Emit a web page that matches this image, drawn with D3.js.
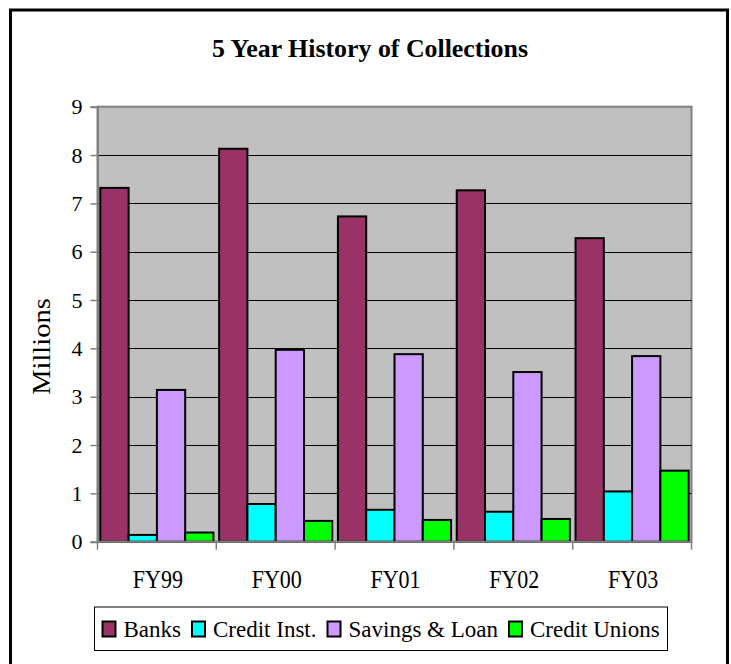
<!DOCTYPE html>
<html lang="en">
<head>
  <meta charset="UTF-8">
  <title>5 Year History of Collections</title>
  <style>
    body { margin: 0; background: #fff; }
    svg { display: block; }
    svg text { font-family: "Liberation Serif", "Times New Roman", Times, serif !important; fill: #000; }
  </style>
</head>
<body>
  <svg id="chart" width="731" height="664"></svg>

  <script src="https://cdn.jsdelivr.net/npm/d3@7/dist/d3.min.js"></script>
  <script>
    // data (millions)
    var years = ["FY99", "FY00", "FY01", "FY02", "FY03"];
    var seriesNames = ["Banks", "Credit Inst.", "Savings & Loan", "Credit Unions"];
    var seriesColors = ["#993366", "#00FFFF", "#CC99FF", "#00FF00"];
    var banks        = [7.32, 8.13, 6.73, 7.27, 6.28];
    var creditInst   = [0.14, 0.78, 0.66, 0.62, 1.04];
    var savingsLoan  = [3.14, 3.97, 3.88, 3.51, 3.84];
    var creditUnions = [0.19, 0.43, 0.45, 0.47, 1.47];
    var yTicks = [0, 1, 2, 3, 4, 5, 6, 7, 8, 9];

    var values = [banks, creditInst, savingsLoan, creditUnions];
    var serif = '"Liberation Serif", "Times New Roman", Times, serif';

    var svg = d3.select("#chart");
    var plot = { left: 97.5, right: 691.5, top: 106.7, bottom: 541.7 };

    // outer frame (bottom edge is cut off in the original)
    svg.append("rect")
      .attr("x", 10.5).attr("y", 10)
      .attr("width", 717).attr("height", 680)
      .attr("fill", "none").attr("stroke", "#000").attr("stroke-width", 3);

    svg.append("text")
      .attr("x", 370).attr("y", 56.7)
      .attr("text-anchor", "middle")
      .style("font-family", serif)
      .attr("font-size", 25).attr("font-weight", "bold")
      .attr("textLength", 316).attr("lengthAdjust", "spacingAndGlyphs")
      .text("5 Year History of Collections");

    var x0 = d3.scaleBand().domain(years).range([plot.left, plot.right]);
    var x1 = d3.scaleBand().domain(seriesNames).range([0, x0.bandwidth()])
      .paddingInner(0).paddingOuter(0.1);
    var y = d3.scaleLinear().domain([0, 9]).range([plot.bottom, plot.top]);

    // plot area
    svg.append("rect")
      .attr("x", plot.left).attr("y", plot.top)
      .attr("width", plot.right - plot.left).attr("height", plot.bottom - plot.top)
      .attr("fill", "#C0C0C0").attr("stroke", "#808080").attr("stroke-width", 2);

    svg.append("g").selectAll("line")
      .data(yTicks.filter(function (t) { return t > 0 && t < 9; }))
      .join("line")
      .attr("x1", plot.left).attr("x2", plot.right)
      .attr("y1", function (d) { return Math.round(y(d)) + 0.5; })
      .attr("y2", function (d) { return Math.round(y(d)) + 0.5; })
      .attr("stroke", "#000").attr("stroke-width", 1);

    // bars
    var groups = svg.append("g").selectAll("g")
      .data(years)
      .join("g")
      .attr("transform", function (d) { return "translate(" + x0(d) + ",0)"; });

    groups.selectAll("rect")
      .data(function (d, i) {
        return seriesNames.map(function (s, j) { return { s: s, v: values[j][i], c: seriesColors[j] }; });
      })
      .join("rect")
      .attr("x", function (d) { return x1(d.s); })
      .attr("width", x1.bandwidth())
      .attr("y", function (d) { return y(d.v); })
      .attr("height", function (d) { return y(0) - y(d.v); })
      .attr("fill", function (d) { return d.c; })
      .attr("stroke", "#000").attr("stroke-width", 2);

    // y axis
    var yAxis = svg.append("g")
      .attr("transform", "translate(" + plot.left + ",0)")
      .call(d3.axisLeft(y).tickValues(yTicks).tickSize(7).tickPadding(8).tickFormat(d3.format("d")));
    yAxis.attr("font-family", null).attr("font-size", null);
    yAxis.select(".domain").attr("stroke", "#808080").attr("stroke-width", 2);
    yAxis.selectAll(".tick line").attr("stroke", "#808080").attr("stroke-width", 1.5);
    yAxis.selectAll("text").style("font-family", serif).attr("font-size", 22).attr("fill", "#000");

    // x axis, ticks at category boundaries
    var xAxis = svg.append("g").attr("transform", "translate(0," + plot.bottom + ")");
    xAxis.append("line")
      .attr("x1", plot.left).attr("x2", plot.right)
      .attr("stroke", "#808080").attr("stroke-width", 2);
    var bounds = years.map(function (d) { return x0(d); }).concat([plot.right]);
    xAxis.selectAll("line.tk").data(bounds).join("line")
      .attr("class", "tk")
      .attr("x1", function (d) { return d; }).attr("x2", function (d) { return d; })
      .attr("y1", 0).attr("y2", 8)
      .attr("stroke", "#808080").attr("stroke-width", 1.5);
    xAxis.selectAll("text").data(years).join("text")
      .attr("text-anchor", "middle")
      .style("font-family", serif)
      .attr("font-size", 22)
      .attr("transform", function (d) {
        return "translate(" + (x0(d) + x0.bandwidth() / 2 + 1) + ",46.6) scale(1,1.14)";
      })
      .text(function (d) { return d; });

    svg.append("text")
      .attr("text-anchor", "middle")
      .style("font-family", serif)
      .attr("font-size", 25)
      .attr("transform", "translate(50,346.5) rotate(-90) scale(1.14,1)")
      .text("Millions");

    // legend
    var legend = svg.append("g");
    legend.append("rect")
      .attr("x", 94.5).attr("y", 607)
      .attr("width", 573).attr("height", 43.5)
      .attr("fill", "#fff").attr("stroke", "#000").attr("stroke-width", 1);
    var lx = 102.5;
    seriesNames.forEach(function (s, i) {
      legend.append("rect")
        .attr("x", lx).attr("y", 621.5)
        .attr("width", 13).attr("height", 15)
        .attr("fill", seriesColors[i]).attr("stroke", "#000").attr("stroke-width", 2);
      var t = legend.append("text")
        .attr("x", lx + 21).attr("y", 637.3)
        .style("font-family", serif)
        .attr("font-size", 23)
        .text(s);
      lx = lx + 21 + t.node().getComputedTextLength() + 11;
    });
  </script>
</body>
</html>
